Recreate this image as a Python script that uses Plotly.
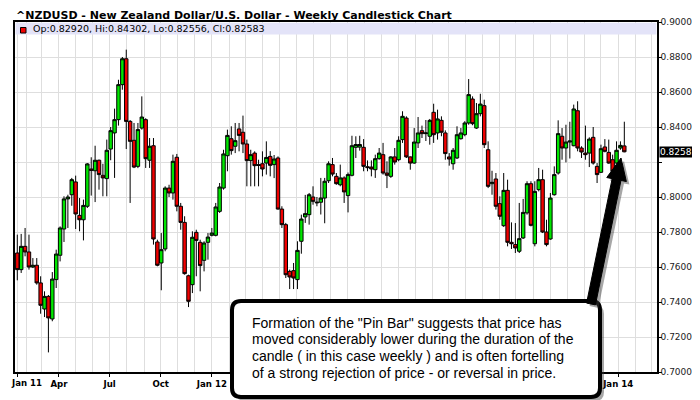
import plotly.graph_objects as go
import pandas as pd

# weekly NZD/USD candles, Jan 2011 - Jan 2014
opens = [0.7680, 0.7585, 0.7718, 0.7686, 0.7600, 0.7610, 0.7509, 0.7360, 0.7432, 0.7303,
         0.7528, 0.7667, 0.7817, 0.7989, 0.8013, 0.8086, 0.7895, 0.7870, 0.7947, 0.8160,
         0.8150, 0.8210, 0.8124, 0.8105, 0.8274, 0.8366, 0.8442, 0.8642, 0.8790, 0.8432,
         0.8324, 0.8175, 0.8394, 0.8442, 0.8210, 0.8293, 0.7743, 0.7623, 0.7703, 0.8051,
         0.8023, 0.8227, 0.7947, 0.7855, 0.7550, 0.7499, 0.7798, 0.7741, 0.7638, 0.7741,
         0.7781, 0.7781, 0.7918, 0.8051, 0.8236, 0.8333, 0.8290, 0.8389, 0.8370, 0.8303,
         0.8208, 0.8251, 0.8185, 0.8190, 0.8194, 0.8232, 0.8185, 0.8223, 0.7931, 0.7842,
         0.7575, 0.7579, 0.7528, 0.7747, 0.7886, 0.7899, 0.8000, 0.7966, 0.7970, 0.7994,
         0.8093, 0.8185, 0.8118, 0.8070, 0.8109, 0.8008, 0.8124, 0.8284, 0.8285, 0.8284,
         0.8173, 0.8171, 0.8156, 0.8219, 0.8242, 0.8137, 0.8118, 0.8229, 0.8213, 0.8328,
         0.8451, 0.8229, 0.8194, 0.8309, 0.8379, 0.8362, 0.8347, 0.8484, 0.8366, 0.8438,
         0.8366, 0.8229, 0.8190, 0.8223, 0.8333, 0.8356, 0.8423, 0.8560, 0.8394, 0.8476,
         0.8522, 0.8270, 0.8076, 0.8103, 0.7962, 0.7836, 0.8038, 0.7741, 0.7728, 0.7690,
         0.7766, 0.7909, 0.8076, 0.7733, 0.8042, 0.8099, 0.7800, 0.7760, 0.8013, 0.8137,
         0.8347, 0.8280, 0.8314, 0.8293, 0.8493, 0.8280, 0.8251, 0.8251, 0.8341, 0.8175,
         0.8141, 0.8286, 0.8255, 0.8213, 0.8194, 0.8280, 0.82920]
highs = [0.7785, 0.7789, 0.7823, 0.7785, 0.7651, 0.7651, 0.7547, 0.7461, 0.7440, 0.7571,
         0.7699, 0.7832, 0.8004, 0.8013, 0.8109, 0.8122, 0.7994, 0.7985, 0.8194, 0.8227,
         0.8293, 0.8214, 0.8190, 0.8328, 0.8400, 0.8505, 0.8670, 0.8800, 0.8842, 0.8440,
         0.8423, 0.8423, 0.8575, 0.8450, 0.8337, 0.8337, 0.7756, 0.7794, 0.8061, 0.8070,
         0.8242, 0.8246, 0.7966, 0.7890, 0.7556, 0.7804, 0.7813, 0.7756, 0.7747, 0.7794,
         0.7823, 0.7966, 0.8080, 0.8270, 0.8385, 0.8404, 0.8423, 0.8423, 0.8465, 0.8328,
         0.8270, 0.8261, 0.8213, 0.8261, 0.8318, 0.8262, 0.8240, 0.8232, 0.7947, 0.7852,
         0.7585, 0.7623, 0.7747, 0.7899, 0.8012, 0.8023, 0.8061, 0.8000, 0.8109, 0.8109,
         0.8204, 0.8223, 0.8137, 0.8185, 0.8118, 0.8140, 0.8350, 0.8347, 0.8350, 0.8331,
         0.8209, 0.8209, 0.8242, 0.8280, 0.8309, 0.8204, 0.8233, 0.8280, 0.8347, 0.8490,
         0.8461, 0.8232, 0.8394, 0.8457, 0.8408, 0.8440, 0.8446, 0.8533, 0.8499, 0.8461,
         0.8381, 0.8251, 0.8280, 0.8404, 0.8394, 0.8433, 0.8674, 0.8575, 0.8537, 0.8590,
         0.8556, 0.8318, 0.8150, 0.8137, 0.8004, 0.8137, 0.8099, 0.7855, 0.7851, 0.7966,
         0.7989, 0.8090, 0.8090, 0.8090, 0.8166, 0.8156, 0.7870, 0.8023, 0.8175, 0.8438,
         0.8394, 0.8413, 0.8430, 0.8528, 0.8547, 0.8290, 0.8408, 0.8341, 0.8400, 0.8194,
         0.8299, 0.8331, 0.8328, 0.8242, 0.8318, 0.8318, 0.84302]
lows = [0.7524, 0.7566, 0.7661, 0.7585, 0.7594, 0.7499, 0.7333, 0.7314, 0.7112, 0.7290,
        0.7480, 0.7632, 0.7743, 0.7823, 0.7950, 0.7817, 0.7804, 0.7752, 0.7937, 0.8008,
        0.7971, 0.8042, 0.8004, 0.8004, 0.8210, 0.8109, 0.8408, 0.8613, 0.8274, 0.7966,
        0.8165, 0.8165, 0.8385, 0.8166, 0.8166, 0.7728, 0.7604, 0.7467, 0.7690, 0.8000,
        0.7985, 0.7918, 0.7813, 0.7556, 0.7371, 0.7451, 0.7547, 0.7461, 0.7575, 0.7642,
        0.7775, 0.7775, 0.7909, 0.8042, 0.8147, 0.8242, 0.8251, 0.8261, 0.8251, 0.8061,
        0.8061, 0.8061, 0.8061, 0.8118, 0.8128, 0.8118, 0.8108, 0.7928, 0.7823, 0.7537,
        0.7474, 0.7474, 0.7474, 0.7676, 0.7852, 0.7842, 0.7956, 0.7947, 0.7900, 0.7850,
        0.8080, 0.8118, 0.8070, 0.8061, 0.7966, 0.7912, 0.8118, 0.8223, 0.8265, 0.8147,
        0.8147, 0.8118, 0.8109, 0.8213, 0.8128, 0.8051, 0.8109, 0.8185, 0.8204, 0.8309,
        0.8223, 0.8156, 0.8190, 0.8280, 0.8337, 0.8320, 0.8299, 0.8309, 0.8328, 0.8347,
        0.8213, 0.8179, 0.8156, 0.8217, 0.8328, 0.8347, 0.8413, 0.8410, 0.8389, 0.8461,
        0.8280, 0.8051, 0.8013, 0.7928, 0.7870, 0.7829, 0.7718, 0.7703, 0.7680, 0.7680,
        0.7760, 0.7899, 0.7832, 0.7718, 0.8032, 0.7794, 0.7718, 0.7756, 0.8008, 0.8128,
        0.8213, 0.8198, 0.8220, 0.8290, 0.8261, 0.8223, 0.8213, 0.8171, 0.8185, 0.8080,
        0.8137, 0.8255, 0.8190, 0.8140, 0.8190, 0.8270, 0.82556]
closes = [0.7585, 0.7718, 0.7686, 0.7600, 0.7610, 0.7509, 0.7381, 0.7432, 0.7309, 0.7531,
          0.7674, 0.7823, 0.7989, 0.8000, 0.8099, 0.7903, 0.7870, 0.7952, 0.8189, 0.8152,
          0.8210, 0.8128, 0.8109, 0.8267, 0.8379, 0.8442, 0.8642, 0.8790, 0.8432, 0.8318,
          0.8171, 0.8385, 0.8457, 0.8219, 0.8290, 0.7760, 0.7610, 0.7699, 0.8051, 0.8023,
          0.8204, 0.7947, 0.7855, 0.7562, 0.7404, 0.7770, 0.7752, 0.7608, 0.7737, 0.7771,
          0.7794, 0.7943, 0.8057, 0.8246, 0.8352, 0.8265, 0.8322, 0.8352, 0.8303, 0.8208,
          0.8242, 0.8179, 0.8180, 0.8160, 0.8226, 0.8181, 0.8217, 0.7931, 0.7842, 0.7556,
          0.7543, 0.7537, 0.7695, 0.7874, 0.7905, 0.8013, 0.7975, 0.7970, 0.7994, 0.8090,
          0.8190, 0.8131, 0.8076, 0.8109, 0.8029, 0.8128, 0.8293, 0.8300, 0.8300, 0.8175,
          0.8168, 0.8160, 0.8219, 0.8251, 0.8137, 0.8124, 0.8229, 0.8200, 0.8324, 0.8461,
          0.8229, 0.8194, 0.8314, 0.8366, 0.8362, 0.8366, 0.8438, 0.8356, 0.8446, 0.8370,
          0.8248, 0.8217, 0.8267, 0.8356, 0.8366, 0.8423, 0.8585, 0.8419, 0.8476, 0.8531,
          0.8299, 0.8061, 0.8084, 0.7947, 0.7890, 0.8038, 0.7741, 0.7733, 0.7709, 0.7762,
          0.7912, 0.8076, 0.7838, 0.8032, 0.8099, 0.7800, 0.7728, 0.7994, 0.8128, 0.8362,
          0.8280, 0.8314, 0.8320, 0.8503, 0.8280, 0.8257, 0.8242, 0.8331, 0.8194, 0.8128,
          0.8276, 0.8261, 0.8194, 0.8147, 0.8267, 0.8295, 0.82583]

week_dates = pd.date_range("2011-01-16", periods=len(opens), freq="7D")

tick_dates = [week_dates[0], "2011-04-01", "2011-07-01", "2011-10-01", "2012-01-01",
              "2012-04-01", "2012-07-01", "2012-10-01", "2013-01-01", "2013-04-01",
              "2013-07-01", "2013-10-01", "2014-01-01"]
# first label is written separately so it is not cut at the page edge;
# labels from Apr 12 to Oct 13 sit under the note box in the original
tick_labels = ["", "Apr", "Jul", "Oct", "Jan 12", "", "", "", "", "", "", "", "Jan 14"]
first_label = "Jan 11"

price_ticks = [0.70, 0.72, 0.74, 0.76, 0.78, 0.80, 0.82, 0.84, 0.86, 0.88, 0.90]
# 0.82000 is hidden behind the last-price tag in the original
price_labels = ["0.70000", "0.72000", "0.74000", "0.76000", "0.78000", "0.80000", "",
                "0.84000", "0.86000", "0.88000", "0.90000"]

note_lines = ['Formation of the "Pin Bar" suggests that price has',
              'moved considerably lower during the duration of the',
              'candle ( in this case weekly ) and is often fortelling',
              'of a strong rejection of price - or reversal in price.']

GREEN = "#00e600"
RED = "#f00000"
GRID = "#dedede"
FONT = "Liberation Sans, Arial, sans-serif"
VFONT = "DejaVu Sans, Verdana, sans-serif"

# the page puts the figure 8px in from the window corner
OFF = 8
# plot area in window pixels: x 15..657, y 22..372
L, R, T, B = 15, 657, 22, 372


def px(x):
    return (x - L) / (R - L)


def py(y):
    return (B - y) / (B - T)


def rounded_box(x0, y0, x1, y1, r):
    pts = [
        f"M {px(x0 + r)},{py(y0)}", f"L {px(x1 - r)},{py(y0)}",
        f"Q {px(x1)},{py(y0)} {px(x1)},{py(y0 + r)}", f"L {px(x1)},{py(y1 - r)}",
        f"Q {px(x1)},{py(y1)} {px(x1 - r)},{py(y1)}", f"L {px(x0 + r)},{py(y1)}",
        f"Q {px(x0)},{py(y1)} {px(x0)},{py(y1 - r)}", f"L {px(x0)},{py(y0 + r)}",
        f"Q {px(x0)},{py(y0)} {px(x0 + r)},{py(y0)}", "Z",
    ]
    return " ".join(pts)


def arrow_path(bx, by, tx, ty, half=4.5, head_len=22, head_half=10, dx=0, dy=0):
    vx, vy = tx - bx, ty - by
    n = (vx ** 2 + vy ** 2) ** 0.5
    ux, uy = vx / n, vy / n
    nx, ny = -uy, ux
    hx, hy = tx - head_len * ux, ty - head_len * uy
    pts = [(bx + half * nx, by + half * ny), (hx + half * nx, hy + half * ny),
           (hx + head_half * nx, hy + head_half * ny), (tx, ty),
           (hx - head_half * nx, hy - head_half * ny), (hx - half * nx, hy - half * ny),
           (bx - half * nx, by - half * ny)]
    s = "M " + " L ".join(f"{px(x + dx)},{py(y + dy)}" for x, y in pts) + " Z"
    return s


fig = go.Figure()
fig.add_trace(go.Candlestick(
    x=week_dates, open=opens, high=highs, low=lows, close=closes,
    increasing=dict(fillcolor=GREEN, line=dict(color="black", width=1)),
    decreasing=dict(fillcolor=RED, line=dict(color="black", width=1)),
    whiskerwidth=0, showlegend=False,
))

shapes = [
    # legend band
    dict(type="rect", xref="paper", yref="paper", x0=0.001, x1=0.999, y0=py(34.5), y1=py(22.8),
         fillcolor="#e3e3f8", line=dict(width=0), layer="above"),
    dict(type="rect", xref="paper", yref="paper", x0=px(20.5), x1=px(26), y0=py(33), y1=py(27.5),
         fillcolor=RED, line=dict(color="black", width=1), layer="above"),
    # note box shadow + box
    dict(type="path", xref="paper", yref="paper", path=rounded_box(236, 305, 604, 401, 9),
         fillcolor="rgba(60,60,60,0.45)", line=dict(width=0), layer="above"),
    dict(type="path", xref="paper", yref="paper", path=rounded_box(232, 301, 600, 397, 9),
         fillcolor="white", line=dict(color="black", width=4), layer="above"),
    # pointer arrow shadow + arrow
    dict(type="path", xref="paper", yref="paper",
         path=arrow_path(591, 304, 621, 158, dx=3, dy=3),
         fillcolor="rgba(60,60,60,0.45)", line=dict(width=0), layer="above"),
    dict(type="path", xref="paper", yref="paper", path=arrow_path(591, 304, 621, 158),
         fillcolor="black", line=dict(color="black", width=1), layer="above"),
]

annotations = [
    dict(xref="paper", yref="paper", x=px(31), y=py(28.5), xanchor="left", yanchor="middle",
         text=f"Op:{opens[-1]:.5f}, Hi:{highs[-1]:.5f}, Lo:{lows[-1]:.5f}, Cl:{closes[-1]:.5f}",
         showarrow=False, font=dict(family=VFONT, size=9.5, color="black")),
    dict(xref="paper", yref="y", x=1, y=closes[-1], xanchor="left", yanchor="middle", xshift=2,
         text=f"{closes[-1]:.5f}", showarrow=False, bgcolor="black", borderpad=0,
         font=dict(family=VFONT, size=9, color="white")),
    dict(xref="paper", yref="paper", x=px(OFF + 1), y=py(383), xanchor="left", yanchor="middle",
         text=f"<b>{first_label}</b>", showarrow=False,
         font=dict(family=VFONT, size=8.6, color="black")),
]
for i, line in enumerate(note_lines):
    annotations.append(dict(xref="paper", yref="paper", x=px(250), y=py(322.5 + i * 16.7),
                            xanchor="left", yanchor="middle", text=line, showarrow=False,
                            font=dict(family=FONT, size=14, color="black")))

fig.update_layout(
    width=700, height=400,
    margin=dict(l=L - OFF, r=700 - R + OFF, t=T - OFF, b=400 - B + OFF, autoexpand=False),
    paper_bgcolor="white", plot_bgcolor="white",
    boxgap=0.12, boxgroupgap=0,
    title=dict(text="<b>^NZDUSD - New Zealand Dollar/U.S. Dollar - Weekly Candlestick Chart</b>",
               xref="container", yref="container", x=(16 - OFF) / 700, y=1 - 3 / 400,
               xanchor="left", yanchor="top", automargin=False,
               font=dict(family=VFONT, size=11, color="black")),
    xaxis=dict(type="date", range=["2011-01-11 21:00", "2014-03-11 19:00"],
               automargin=False, rangeslider=dict(visible=False),
               tickmode="array", tickvals=tick_dates, ticktext=tick_labels,
               ticklabeloverflow="allow",
               tickfont=dict(family=VFONT, size=8.6, color="black", weight="bold"),
               ticks="outside", ticklen=3, tickcolor="black",
               showgrid=True, gridcolor=GRID, gridwidth=1,
               minor=dict(dtick="M1", tick0="2011-01-01", showgrid=True, gridcolor=GRID,
                          gridwidth=1, ticks=""),
               showline=True, linecolor="black", linewidth=1.5, mirror=True, zeroline=False),
    yaxis=dict(side="right", range=[0.70, 0.90], automargin=False,
               tickmode="array", tickvals=price_ticks, ticktext=price_labels,
               ticklabeloverflow="allow", ticklabelstandoff=-3,
               tickfont=dict(family=VFONT, size=9, color="#222222"),
               ticks="outside", ticklen=3, tickcolor="black",
               showgrid=True, gridcolor=GRID, gridwidth=1,
               showline=True, linecolor="black", linewidth=1.5, mirror=True, zeroline=False),
    shapes=shapes,
    annotations=annotations,
)

fig.write_html("out.html")
